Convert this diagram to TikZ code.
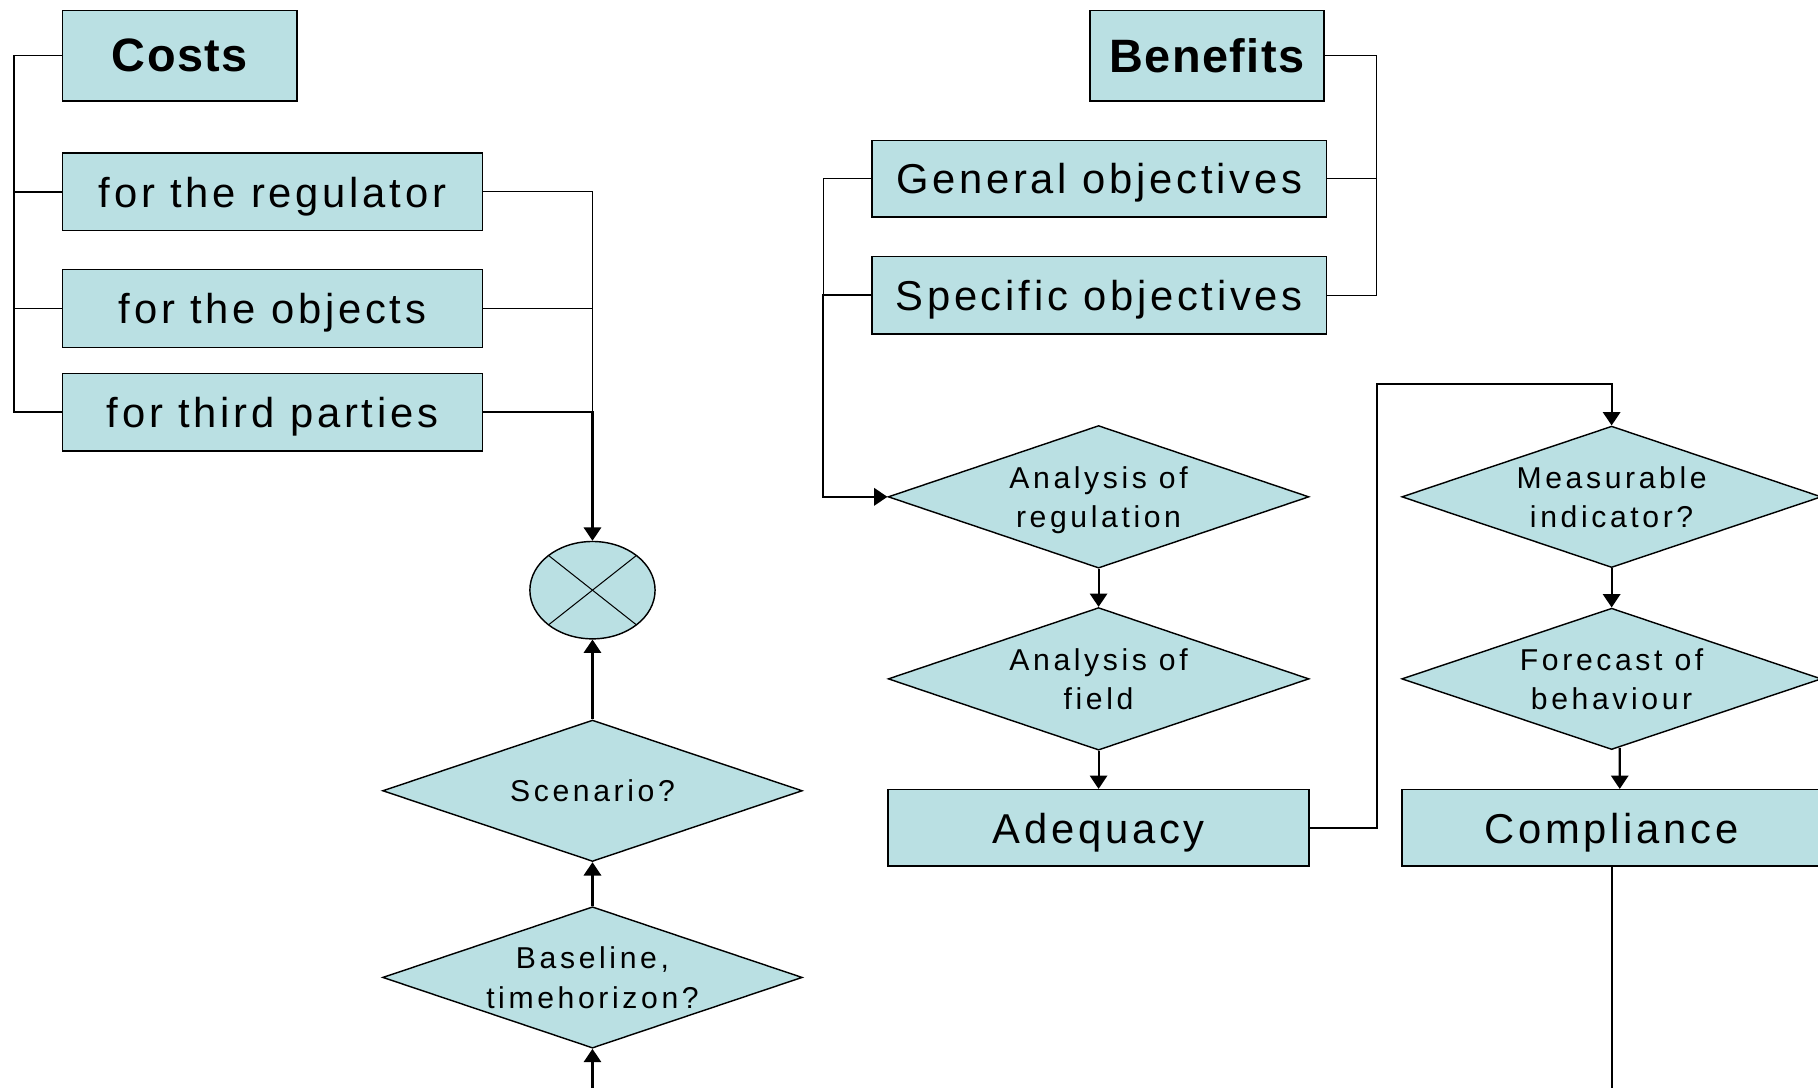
\documentclass[tikz,border=0pt]{standalone}
\usepackage{fontspec}
\setmainfont{Liberation Sans}
\newfontfamily\bigf[LetterSpace=9]{Liberation Sans}
\newfontfamily\headf[LetterSpace=3]{Liberation Sans}
\newfontfamily\smf[LetterSpace=12]{Liberation Sans}
\usetikzlibrary{shapes.geometric,arrows.meta}
\definecolor{boxfill}{RGB}{186,224,227}
\begin{document}
\begin{tikzpicture}[x=0.02cm,y=-0.02cm,
  basic/.style={draw=black, fill=boxfill, line width=0.7pt, inner sep=0pt},
  rbox/.style={basic, rectangle, minimum width=7.24cm, minimum height=1.34cm, text height=0.6cm, text depth=0.07cm, font=\bigf\fontsize{20.5}{24}\selectfont},
  head/.style={basic, rectangle, minimum width=4.04cm, minimum height=1.56cm, font=\headf\bfseries\fontsize{23}{27}\selectfont},
  dia/.style={basic, diamond, aspect=3, minimum width=7.24cm, minimum height=2.44cm, align=center, text depth=0pt, font=\smf\fontsize{14.8}{19.4}\selectfont},
  tl/.style={line width=0.5pt},
  tm/.style={line width=0.7pt},
  tk/.style={line width=1pt},
  arr/.style={-{Triangle[length=0.23cm,width=0.3cm]}}]
\useasboundingbox (0,0) rectangle (1568,938);
\clip (0,0) rectangle (1568,938);

% Costs side
\node[head] (costs) at (155,48) {Costs};
\node[rbox] (reg) at (235,165.5) {for the regulator};
\node[rbox] (obj) at (235,266) {for the objects};
\node[rbox] (third) at (235,355.5) {for third parties};
\node[basic, ellipse, minimum width=2.16cm, minimum height=1.68cm] (circ) at (511,509) {};
\draw[tl] ([shift={(-38,-30)}]circ.center) -- ([shift={(38,30)}]circ.center);
\draw[tl] ([shift={(-38,30)}]circ.center) -- ([shift={(38,-30)}]circ.center);
\node[dia] (scen) at (511,682) {Scenario?};
\node[dia] (base) at (511,843) {Baseline,\\timehorizon?};

% Benefits side
\node[head] (benefits) at (1041,48) {Benefits};
\node[rbox, minimum width=7.84cm, minimum height=1.32cm] (gen) at (948,154) {General objectives};
\node[rbox, minimum width=7.84cm] (spec) at (948,254.5) {Specific objectives};
\node[dia, minimum width=7.26cm, minimum height=2.46cm] (ana) at (947.5,428.5) {Analysis of\\regulation};
\node[dia, minimum width=7.26cm, minimum height=2.46cm] (field) at (947.5,585.5) {Analysis of\\field};
\node[rbox, minimum width=7.26cm, minimum height=1.32cm] (adeq) at (947.5,714) {Adequacy};
\node[dia] (meas) at (1390,428.5) {Measurable\\indicator?};
\node[dia] (fore) at (1390,585.5) {Forecast of\\behaviour};
\node[rbox, minimum height=1.32cm] (comp) at (1390,714) {Compliance};

% Costs connectors
\coordinate (lb) at (12,48);
\draw[tm] (costs.west) -- (lb) |- (third.west);
\draw[tm] (lb |- reg.west) -- (reg.west);
\draw[tm] (lb |- obj.west) -- (obj.west);
\draw[tl] (reg.east) -| (third.east -| circ.north);
\draw[tl] (obj.east) -- (obj.east -| circ.north);
\draw[tk,arr] (third.east) -| (circ.north);
\draw[tk,arr] (scen.north) -- (circ.south);
\draw[tk,arr] (base.north) -- (scen.south);
\coordinate (bb) at (511,960);
\draw[tk,arr] (bb) -- (base.south);

% Benefits connectors
\coordinate (rb) at (1187,48);
\draw[tl] (benefits.east) -- (rb) |- (spec.east);
\draw[tl] (rb |- gen.east) -- (gen.east);
\coordinate (lb2) at (710,154);
\draw[tl] (gen.west) -- (lb2) -- (lb2 |- spec.west);
\draw[tk,arr] (spec.west) -| (lb2 |- ana.west) -- (ana.west);
\draw[tk,arr] (ana.south) -- (field.north);
\draw[tk,arr] (field.south) -- (adeq.north);
\coordinate (up) at (1188,331);
\draw[tk,arr] (adeq.east) -| (up) -| (meas.north);
\draw[tk,arr] (meas.south) -- (fore.north);
\draw[tk,arr] ([shift={(7,-2)}]fore.south) -- ([xshift=0.14cm]comp.north);
\coordinate (cb) at (1390,960);
\draw[line width=0.9pt] (comp.south) -- (cb);
\end{tikzpicture}
\end{document}
